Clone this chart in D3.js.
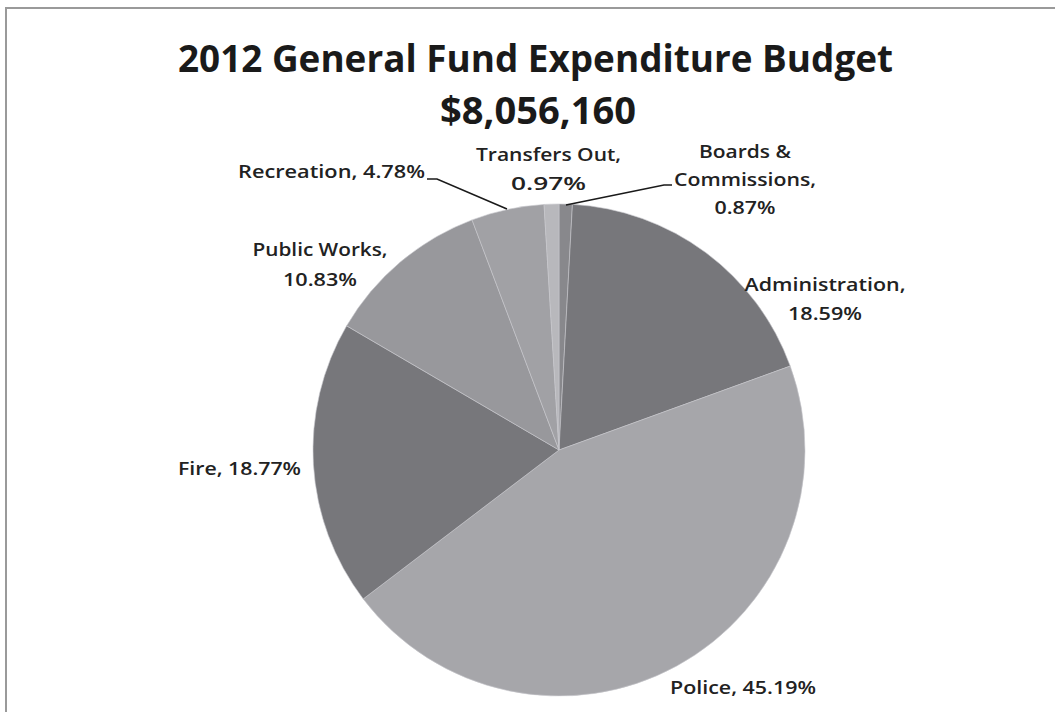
<!DOCTYPE html>
<html>
<head>
<meta charset="utf-8">
<script src="https://cdn.jsdelivr.net/npm/d3@7"></script>
<style>
  html, body { margin: 0; padding: 0; background: #ffffff; }
  svg { display: block; }
</style>
</head>
<body>
<svg id="chart" width="1055" height="712"></svg>
<script>
// ---- data ----
const categories = ["Boards & Commissions", "Administration", "Police", "Fire", "Public Works", "Recreation", "Transfers Out"];
const values = [0.87, 18.59, 45.19, 18.77, 10.83, 4.78, 0.97];
const labelLines = [
  ["Boards &", "Commissions,", "0.87%"],
  ["Administration,", "18.59%"],
  ["Police, 45.19%"],
  ["Fire, 18.77%"],
  ["Public Works,", "10.83%"],
  ["Recreation, 4.78%"],
  ["Transfers Out,", "0.97%"]
];
const titleLines = ["2012 General Fund Expenditure Budget", "$8,056,160"];

// ---- styling / layout ----
const fills = ["#88888c", "#77777b", "#a6a6aa", "#77777b", "#98989c", "#a1a1a5", "#b8b8bc"];
const labelLayout = [
  { x: 745, y: [158, 186, 214], w: [92, 142, 61] },
  { x: 825, y: [291, 320], w: [161, 74] },
  { x: 743, y: [694], w: [146] },
  { x: 239.5, y: [475], w: [123] },
  { x: 320, y: [256, 286], w: [135, 74] },
  { x: 331.5, y: [178], w: [187] },
  { x: 548.5, y: [161, 190], w: [145, 75] }
];
const leaders = [
  { i: 0, pts: [[672, 185], [664, 185], [566, 205]] },
  { i: 5, pts: [[427, 179], [437, 179], [507, 209]] }
];

const svg = d3.select("#chart");
const W = 1055, H = 712;
const cx = 559, cy = 450, R = 246;
const font = "'Open Sans', 'Noto Sans', sans-serif";

// frame
svg.append("rect").attr("x", 6).attr("y", 8).attr("width", W + 20).attr("height", H + 20)
  .attr("fill", "#ffffff").attr("stroke", "#9a9a9a").attr("stroke-width", 2);

// title
const titleY = [72, 124];
const titleW = [715, 196];
const titleX = [535.5, 538];
titleLines.forEach((t, k) => {
  svg.append("text")
    .attr("x", titleX[k]).attr("y", titleY[k])
    .attr("text-anchor", "middle")
    .attr("font-family", font).attr("font-weight", "bold").attr("font-size", 37)
    .attr("fill", "#1a1a1a")
    .attr("textLength", titleW[k]).attr("lengthAdjust", "spacingAndGlyphs")
    .text(t);
});

// pie
const pie = d3.pie().sort(null).value(d => d)(values);
const arc = d3.arc().innerRadius(0).outerRadius(R);
const g = svg.append("g").attr("transform", `translate(${cx},${cy})`);
g.selectAll("path").data(pie).join("path")
  .attr("d", arc)
  .attr("fill", (d, i) => fills[i])
  .attr("stroke", "#c8c8cc").attr("stroke-width", 0.6);

// leader lines
const line = d3.line();
leaders.forEach(l => {
  svg.append("path").attr("d", line(l.pts))
    .attr("fill", "none").attr("stroke", "#1a1a1a").attr("stroke-width", 1.6);
});

// labels
labelLines.forEach((lines, i) => {
  const L = labelLayout[i];
  lines.forEach((t, k) => {
    svg.append("text")
      .attr("x", L.x).attr("y", L.y[k])
      .attr("text-anchor", "middle")
      .attr("font-family", font).attr("font-size", 18).attr("font-weight", 600)
      .attr("fill", "#222222")
      .attr("textLength", L.w[k]).attr("lengthAdjust", "spacingAndGlyphs")
      .text(t);
  });
});
</script>
</body>
</html>
